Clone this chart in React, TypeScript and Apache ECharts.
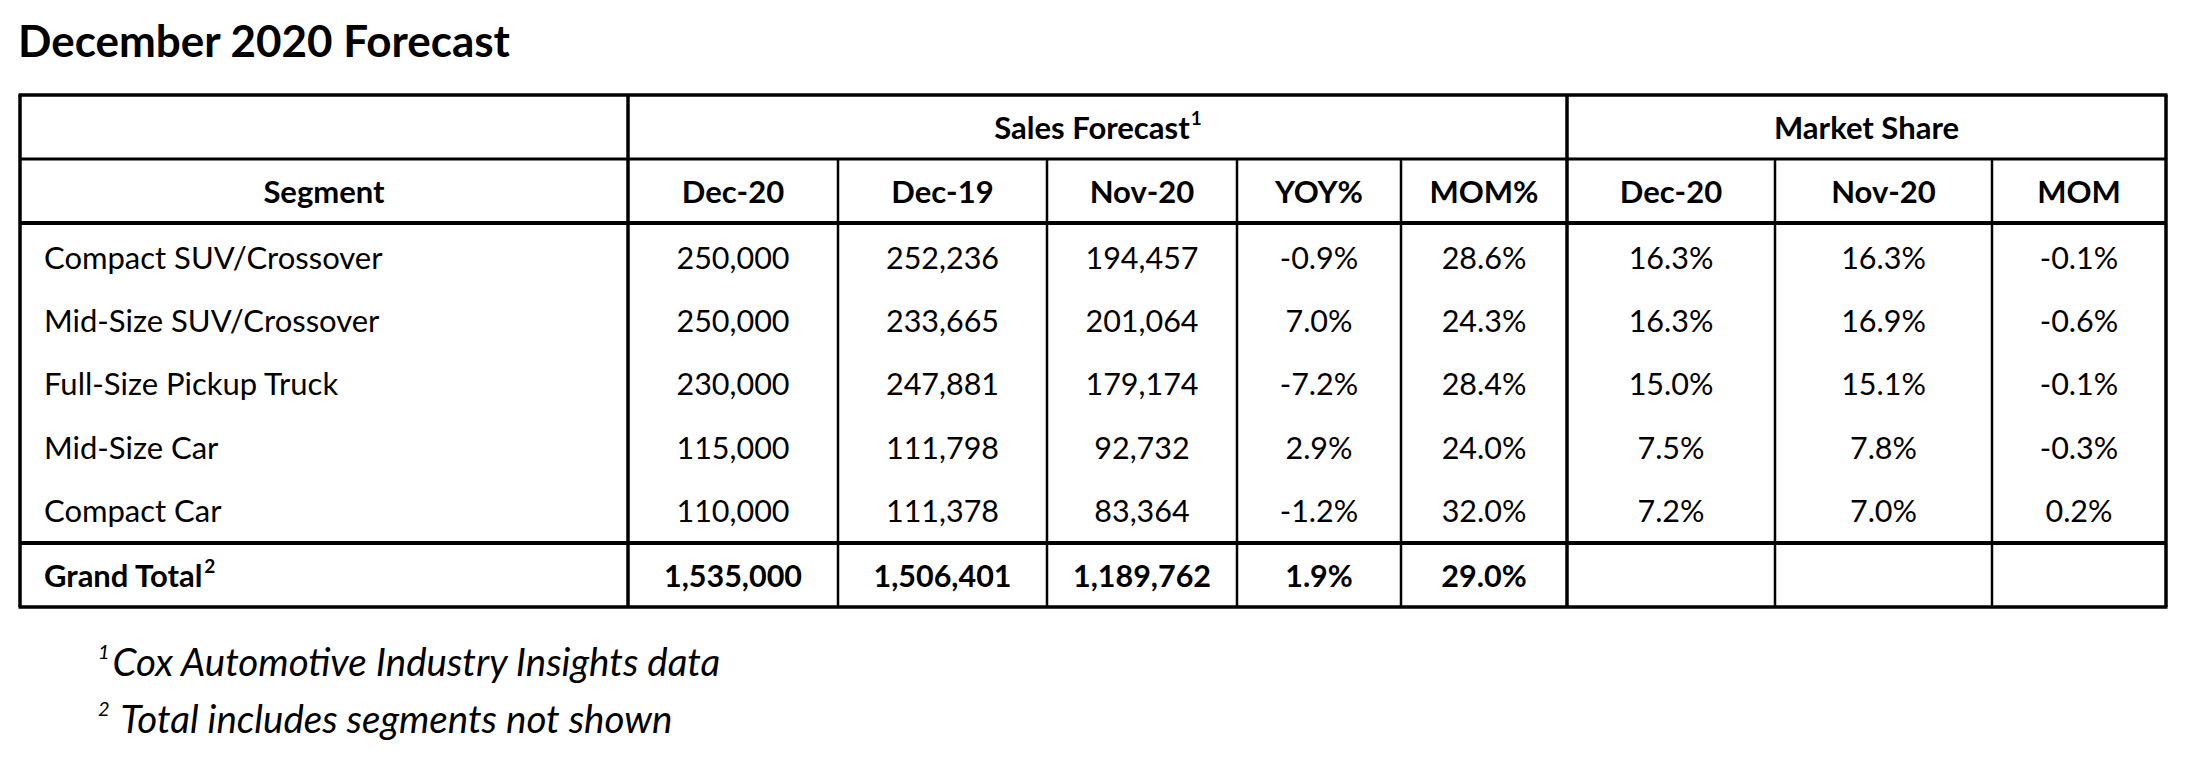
import React, { useEffect, useRef } from "react";
import * as echarts from "echarts";

const title = "December 2020 Forecast";
const groupHeaders = ["Sales Forecast", "Market Share"];
const groupNotes = ["1", ""];
const columnHeaders = ["Segment", "Dec-20", "Dec-19", "Nov-20", "YOY%", "MOM%", "Dec-20", "Nov-20", "MOM"];
const segments = ["Compact SUV/Crossover", "Mid-Size SUV/Crossover", "Full-Size Pickup Truck", "Mid-Size Car", "Compact Car"];
const salesDec20 = [250000, 250000, 230000, 115000, 110000];
const salesDec19 = [252236, 233665, 247881, 111798, 111378];
const salesNov20 = [194457, 201064, 179174, 92732, 83364];
const yoyPct = [-0.9, 7.0, -7.2, 2.9, -1.2];
const momPct = [28.6, 24.3, 28.4, 24.0, 32.0];
const shareDec20 = [16.3, 16.3, 15.0, 7.5, 7.2];
const shareNov20 = [16.3, 16.9, 15.1, 7.8, 7.0];
const shareMom = [-0.1, -0.6, -0.1, -0.3, 0.2];
const totalLabel = "Grand Total";
const totalNote = "2";
const totalSales = [1535000, 1506401, 1189762];
const totalPct = [1.9, 29.0];
const footnotes = [
  { mark: "1", text: "Cox Automotive Industry Insights data" },
  { mark: "2", text: " Total includes segments not shown" },
];

const FONT = "Lato";

function measure(text: string, size: number, weight = "normal", style = "normal") {
  const c = document.createElement("canvas").getContext("2d")!;
  c.font = `${style} ${weight} ${size}px ${FONT}`;
  return c.measureText(text).width;
}

function fmtNum(v: number) {
  return v.toLocaleString("en-US");
}
function fmtPct(v: number) {
  return v.toFixed(1) + "%";
}

export default function App() {
  const ref = useRef<HTMLDivElement>(null);
  useEffect(() => {
    document.body.style.margin = "0";
    const chart = echarts.init(ref.current!, null, { renderer: "svg" });

    const colX = [20, 628, 838, 1047, 1237, 1401, 1567, 1775, 1992, 2166];
    const hTop = 95, hMid = 159, hHead = 223, hTotal = 543, hBottom = 607;
    const rowCenters = [257, 320, 383, 447, 510];
    const totalCenter = 575;
    const SZ = 31;
    const NUM = 30.5;

    const els: any[] = [];
    const txt = (x: number, y: number, text: string, o: any = {}) => {
      els.push({
        type: "text",
        x,
        y,
        silent: true,
        style: {
          text,
          fill: "#000",
          font: `${o.style || "normal"} ${o.weight || "normal"} ${o.size || SZ}px ${FONT}`,
          textAlign: o.align || "center",
          textVerticalAlign: "middle",
        },
      });
    };
    const withSup = (cx: number, y: number, main: string, sup: string, o: any, align: string) => {
      const size = o.size || SZ;
      const supSize = Math.round(size * 0.6);
      const w = measure(main, size, o.weight || "normal", o.style || "normal");
      const ws = sup ? measure(sup, supSize, o.weight || "normal", o.style || "normal") : 0;
      const x0 = align === "center" ? cx - (w + ws) / 2 : cx;
      txt(x0, y, main, { ...o, align: "left" });
      if (sup) txt(x0 + w + 1, y - size * 0.3, sup, { ...o, size: supSize, align: "left" });
    };
    const line = (x1: number, y1: number, x2: number, y2: number, lw: number) => {
      els.push({ type: "line", silent: true, shape: { x1, y1, x2, y2 }, style: { stroke: "#000", lineWidth: lw } });
    };

    els.push({ type: "rect", shape: { x: 0, y: 0, width: 2190, height: 770 }, style: { fill: "#fff" }, silent: true });

    // title
    txt(18, 40, title, { size: 44, weight: "bold", align: "left" });

    // horizontal lines
    const L = colX[0], R = colX[colX.length - 1];
    line(L - 1.5, hTop, R + 1.5, hTop, 3.5);
    line(L, hMid, R, hMid, 3);
    line(L, hHead, R, hHead, 4);
    line(L, hTotal, R, hTotal, 4);
    line(L - 1.5, hBottom, R + 1.5, hBottom, 3.5);
    // vertical lines
    colX.forEach((x, i) => {
      const major = i === 0 || i === 1 || i === 6 || i === colX.length - 1;
      line(x, major ? hTop : hMid, x, hBottom, major ? 3.5 : 2.5);
    });

    // group headers
    const g1 = (colX[1] + colX[6]) / 2, g2 = (colX[6] + colX[9]) / 2;
    const gy = (hTop + hMid) / 2;
    withSup(g1, gy, groupHeaders[0], groupNotes[0], { weight: "bold" }, "center");
    withSup(g2, gy, groupHeaders[1], groupNotes[1], { weight: "bold" }, "center");

    // column headers
    const hy = (hMid + hHead) / 2;
    columnHeaders.forEach((h, i) => {
      txt((colX[i] + colX[i + 1]) / 2, hy, h, { weight: "bold" });
    });

    // data rows
    segments.forEach((s, r) => {
      const y = rowCenters[r];
      const cells = [
        fmtNum(salesDec20[r]), fmtNum(salesDec19[r]), fmtNum(salesNov20[r]),
        fmtPct(yoyPct[r]), fmtPct(momPct[r]),
        fmtPct(shareDec20[r]), fmtPct(shareNov20[r]), fmtPct(shareMom[r]),
      ];
      txt(44, y, s, { align: "left" });
      cells.forEach((c, i) => txt((colX[i + 1] + colX[i + 2]) / 2, y, c, { size: NUM }));
    });

    // total row
    withSup(44, totalCenter, totalLabel, totalNote, { weight: "bold" }, "left");
    const totalCells = [...totalSales.map(fmtNum), ...totalPct.map(fmtPct)];
    totalCells.forEach((c, i) => txt((colX[i + 1] + colX[i + 2]) / 2, totalCenter, c, { weight: "bold", size: NUM }));

    // footnotes
    const fy = [661, 718];
    const FS = 38.5;
    footnotes.forEach((f, i) => {
      txt(98, fy[i] - 10, f.mark, { size: 20, style: "italic", align: "left" });
      const mw = measure(f.mark, 20, "normal", "italic");
      txt(98 + mw + 3, fy[i], f.text, { size: FS, style: "italic", align: "left" });
    });

    chart.setOption({
      animation: false,
      backgroundColor: "#fff",
      graphic: { elements: els },
    });
    return () => chart.dispose();
  }, []);
  return <div ref={ref} style={{ width: 2190, height: 770 }} />;
}
